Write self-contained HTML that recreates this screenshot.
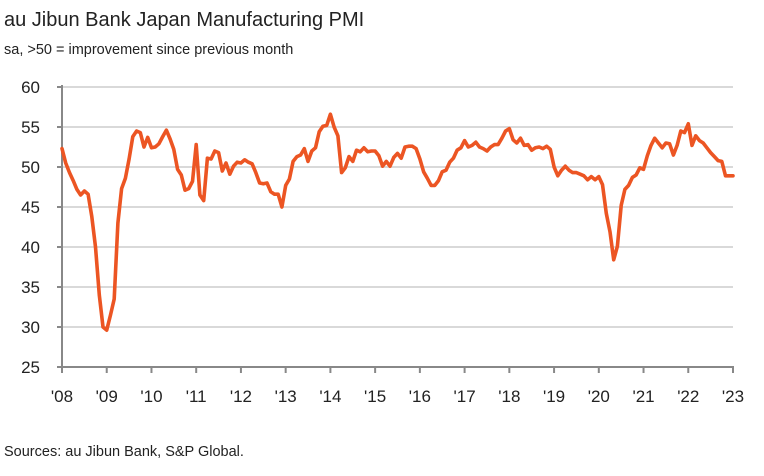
<!DOCTYPE html>
<html><head><meta charset="utf-8"><style>
body{margin:0;background:#fff;width:764px;height:471px;overflow:hidden;font-family:"Liberation Sans",sans-serif}
</style></head><body>
<svg id="chart" width="764" height="471" xmlns="http://www.w3.org/2000/svg" font-family="Liberation Sans, sans-serif">
<text x="4" y="26" font-size="20" fill="#222">au Jibun Bank Japan Manufacturing PMI</text>
<text x="4" y="54" font-size="14.5" fill="#222">sa, &gt;50 = improvement since previous month</text>
<text x="4" y="456" font-size="14.5" fill="#222">Sources: au Jibun Bank, S&amp;P Global.</text>
<g id="grid"></g><g id="axes"></g><g id="series"></g>
</svg>
<script>
const yTicks=[25,30,35,40,45,50,55,60];
const xTickLabels=["'08","'09","'10","'11","'12","'13","'14","'15","'16","'17","'18","'19","'20","'21","'22","'23"];
const startYear=2008;
const pmiValues=[52.3,50.5,49.3,48.3,47.2,46.5,47.0,46.6,43.8,40.0,34.0,30.0,
29.6,31.5,33.5,43.0,47.3,48.6,51.0,53.8,54.5,54.3,52.5,53.7,
52.4,52.5,52.9,53.8,54.6,53.5,52.2,49.7,49.0,47.1,47.3,48.2,
52.8,46.5,45.8,51.1,51.0,52.0,51.8,49.5,50.5,49.1,50.1,50.6,
50.5,50.9,50.6,50.4,49.3,48.0,47.9,48.0,46.9,46.6,46.6,45.0,
47.7,48.5,50.7,51.3,51.5,52.3,50.7,52.0,52.4,54.4,55.1,55.2,
56.6,55.0,53.9,49.3,49.9,51.3,50.7,52.1,51.9,52.4,51.9,52.0,
52.0,51.4,50.1,50.7,50.1,51.2,51.7,51.1,52.5,52.6,52.6,52.3,
51.0,49.4,48.6,47.7,47.7,48.3,49.4,49.6,50.6,51.1,52.1,52.4,
53.3,52.5,52.7,53.1,52.5,52.3,52.0,52.5,52.8,52.8,53.6,54.5,
54.8,53.4,53.0,53.6,52.7,52.8,52.1,52.4,52.5,52.3,52.6,52.2,
50.0,48.9,49.6,50.1,49.6,49.3,49.3,49.1,48.9,48.4,48.8,48.4,
48.8,47.8,44.2,41.9,38.4,40.1,45.2,47.2,47.7,48.7,49.0,49.9,
49.7,51.4,52.7,53.6,53.0,52.4,53.0,52.9,51.5,52.7,54.5,54.3,
55.4,52.7,53.9,53.3,53.0,52.4,51.8,51.3,50.8,50.7,48.9,48.9,
48.9];
const NS="http://www.w3.org/2000/svg";
const X0=62,X1=733,Y0=367,Y1=87;
const nMonths=(xTickLabels.length-1)*12;
function xs(m){return X0+(X1-X0)*m/nMonths;}
function ys(v){return Y0-(v-25)/(60-25)*(Y0-Y1);}
function mk(t,a,p){const e=document.createElementNS(NS,t);for(const k in a)e.setAttribute(k,a[k]);p.appendChild(e);return e;}
const grid=document.getElementById('grid'),axes=document.getElementById('axes'),ser=document.getElementById('series');
yTicks.forEach(v=>{
  if(v>25){const g=mk('line',{x1:X0,x2:X1,y1:ys(v),y2:ys(v),stroke:'#d9d9d9','stroke-width':2},grid);
  
  }
  const tk=mk('line',{x1:X0-5,x2:X0,y1:ys(v),y2:ys(v),stroke:'#888','stroke-width':2},axes);
  
  
  const t=mk('text',{x:40,y:ys(v)+6,'text-anchor':'end','font-size':17,fill:'#222'},axes);
  t.textContent=v;
  
  
});
const ya=mk('line',{x1:X0,x2:X0,y1:Y1-2,y2:Y0,stroke:'#888','stroke-width':2},axes);


const xa=mk('line',{x1:X0-1,x2:X1+1,y1:Y0,y2:Y0,stroke:'#888','stroke-width':2},axes);


xTickLabels.forEach((l,i)=>{
  const x=xs(i*12);
  const tk=mk('line',{x1:x,x2:x,y1:Y0,y2:Y0+6,stroke:'#888','stroke-width':2},axes);
  
  
  const t=mk('text',{x:x,y:Y0+35,'text-anchor':'middle','font-size':17,fill:'#222'},axes);
  t.textContent=l;
  
  
});
const d=pmiValues.map((v,i)=>(i?'L':'M')+xs(i).toFixed(1)+','+ys(v).toFixed(1)).join('');
const p=mk('path',{d:d,fill:'none',stroke:'#ec5523','stroke-width':3.6,'stroke-linejoin':'round','stroke-linecap':'round'},ser);


</script>
</body></html>
